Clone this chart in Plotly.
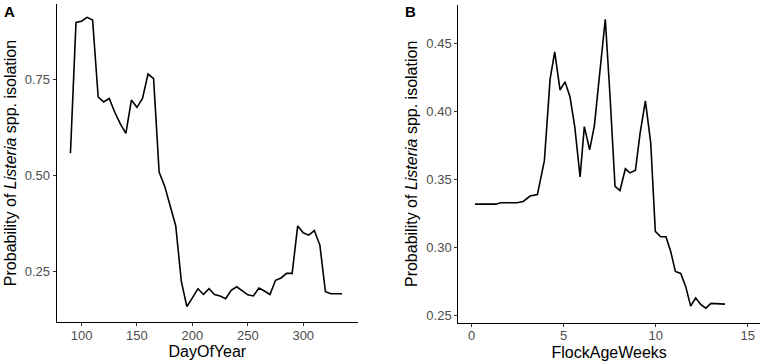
import plotly.graph_objects as go

# Panel A data
day_of_year = [90, 95, 100, 105, 110, 115, 120, 125, 130, 135, 140, 145, 150, 155, 160, 165,
               170, 175, 180, 185, 190, 195, 200, 205, 210, 215, 220, 225, 230, 235, 240, 245,
               250, 255, 260, 265, 270, 275, 280, 285, 290, 295, 300, 305, 310, 315, 320, 325,
               330, 335]
prob_day = [0.558, 0.900, 0.903, 0.913, 0.906, 0.705, 0.692, 0.701, 0.665, 0.635, 0.610, 0.697,
            0.678, 0.701, 0.765, 0.753, 0.509, 0.472, 0.420, 0.368, 0.224, 0.157, 0.180, 0.204,
            0.189, 0.204, 0.189, 0.185, 0.178, 0.200, 0.209, 0.198, 0.188, 0.185, 0.206, 0.198,
            0.189, 0.226, 0.232, 0.244, 0.244, 0.368, 0.350, 0.344, 0.356, 0.318, 0.196, 0.191,
            0.191, 0.191]

# Panel B data
flock_age_weeks = [0.18, 0.46, 0.75, 1.04, 1.32, 1.57, 1.86, 2.15, 2.45, 2.80, 3.17, 3.57,
                   3.95, 4.26, 4.51, 4.80, 5.07, 5.34, 5.60, 5.89, 6.12, 6.41, 6.67, 6.97,
                   7.26, 7.52, 7.79, 8.06, 8.35, 8.60, 8.90, 9.15, 9.44, 9.73, 9.98, 10.27,
                   10.56, 10.82, 11.07, 11.36, 11.63, 11.90, 12.17, 12.46, 12.73, 13.00,
                   13.28, 13.77]
prob_week = [0.332, 0.332, 0.332, 0.332, 0.332, 0.333, 0.333, 0.333, 0.333, 0.334, 0.338, 0.339,
             0.364, 0.424, 0.444, 0.416, 0.422, 0.411, 0.389, 0.352, 0.389, 0.372, 0.390, 0.430,
             0.468, 0.411, 0.345, 0.342, 0.358, 0.355, 0.357, 0.384, 0.408, 0.377, 0.312, 0.308,
             0.308, 0.297, 0.2825, 0.281, 0.2715, 0.257, 0.263, 0.258, 0.2555, 0.259, 0.259,
             0.2585]

xticks_a = [100, 150, 200, 250, 300]
yticks_a = [0.25, 0.50, 0.75]
yticklabels_a = ["0.25", "0.50", "0.75"]
xticks_b = [0, 5, 10, 15]
yticks_b = [0.25, 0.30, 0.35, 0.40, 0.45]
yticklabels_b = ["0.25", "0.30", "0.35", "0.40", "0.45"]

W, H = 765, 364
FONT = "Liberation Sans, Arial, sans-serif"
ytitle = "Probability of <i>Listeria</i> spp. isolation"
TITLE_FONT = dict(family=FONT, size=16, color="black")

fig = go.Figure()
fig.add_trace(go.Scatter(x=day_of_year, y=prob_day, mode="lines",
                         line=dict(color="black", width=1.6), xaxis="x", yaxis="y",
                         showlegend=False))
fig.add_trace(go.Scatter(x=flock_age_weeks, y=prob_week, mode="lines",
                         line=dict(color="black", width=1.6), xaxis="x2", yaxis="y2",
                         showlegend=False))

axis_common = dict(showgrid=False, zeroline=False, showline=True, linecolor="black",
                   linewidth=1.1, ticks="outside", ticklen=3, tickwidth=1.1,
                   tickcolor="#333333", tickfont=dict(family=FONT, size=13, color="#4D4D4D"),
                   mirror=False, automargin=False)

fig.update_layout(
    template="none",
    width=W, height=H,
    margin=dict(l=0, r=0, t=0, b=0),
    paper_bgcolor="white", plot_bgcolor="white",
    font=dict(family=FONT),
    xaxis=dict(axis_common, domain=[56.7 / W, 358 / W], range=[77.6, 349.4],
               tickvals=xticks_a, ticktext=[str(v) for v in xticks_a], anchor="y",
               ticklabelstandoff=-2,
               title=dict(text="DayOfYear", font=TITLE_FONT, standoff=4)),
    yaxis=dict(axis_common, domain=[1 - 322 / H, 1 - 4 / H], range=[0.117, 0.948],
               tickvals=yticks_a, ticktext=yticklabels_a, anchor="x",
               title=dict(text=ytitle, font=TITLE_FONT, standoff=4)),
    xaxis2=dict(axis_common, domain=[458.3 / W, 760 / W], range=[-0.73, 15.67],
                tickvals=xticks_b, ticktext=[str(v) for v in xticks_b], anchor="y2",
                ticklabelstandoff=-2,
                title=dict(text="FlockAgeWeeks", font=TITLE_FONT, standoff=4)),
    yaxis2=dict(axis_common, domain=[1 - 322.7 / H, 1 - 5 / H], range=[0.2448, 0.4785],
                tickvals=yticks_b, ticktext=yticklabels_b, anchor="x2",
                title=dict(text=ytitle, font=TITLE_FONT, standoff=4)),
    annotations=[
        dict(text="<b>A</b>", x=9.5 / W, y=1 - 12 / H, xref="paper", yref="paper",
             showarrow=False, font=dict(family=FONT, size=15, color="black"),
             xanchor="center", yanchor="middle"),
        dict(text="<b>B</b>", x=410 / W, y=1 - 12 / H, xref="paper", yref="paper",
             showarrow=False, font=dict(family=FONT, size=15, color="black"),
             xanchor="center", yanchor="middle"),
    ],
)

fig.write_html("out.html", config={"displayModeBar": False},
               post_script="document.body.style.margin='0px';")
